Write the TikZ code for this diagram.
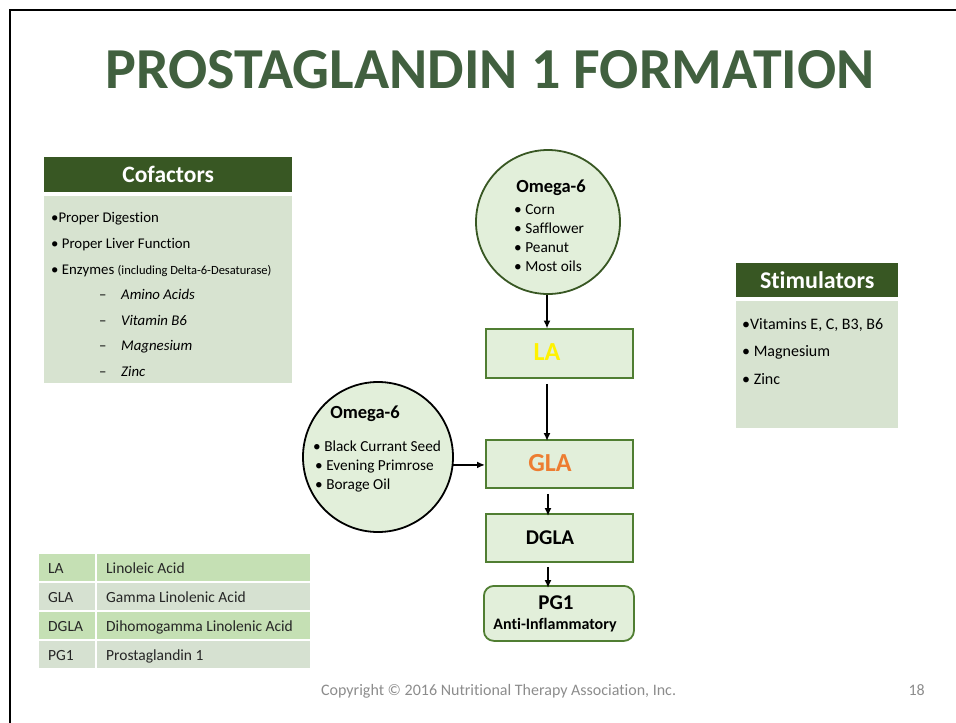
\documentclass[tikz,border=0pt]{standalone}
\usepackage{fontspec}
\setmainfont[Ligatures=NoCommon]{Carlito}
\usetikzlibrary{arrows.meta}
\definecolor{titlegreen}{HTML}{41603F}
\definecolor{headgreen}{HTML}{385723}
\definecolor{panel}{HTML}{D7E3D0}
\definecolor{bubble}{HTML}{E2EFDA}
\definecolor{boxline}{HTML}{507E32}
\definecolor{rowA}{HTML}{C5E0B4}
\definecolor{rowB}{HTML}{D6E1D1}
\definecolor{footgrey}{HTML}{8C8C8C}
\definecolor{glaorange}{HTML}{ED7D31}
\definecolor{celltext}{HTML}{262626}
\newcommand{\fs}[1]{\fontsize{#1}{#1}\selectfont}
\begin{document}
\begin{tikzpicture}[x=1pt,y=-1pt,
  panelhead/.style={rectangle, fill=headgreen, text=white, font=\fs{23.5}\bfseries,
    inner sep=0pt, anchor=north west},
  panelbody/.style={rectangle, fill=panel, inner sep=0pt, anchor=north west},
  item/.style={anchor=base west, inner sep=0pt, font=\fs{14.8}},
  bubitem/.style={anchor=base west, inner sep=0pt, font=\fs{15.3}},
  bubblenode/.style={circle, fill=bubble, line width=1.8pt, inner sep=0pt},
  stepbox/.style={rectangle, fill=bubble, draw=boxline, line width=1.8pt,
    inner sep=0pt, anchor=north west},
  boxlabel/.style={font=\fs{26}\bfseries, inner sep=0pt},
  flow/.style={-{Latex[length=8pt,width=7pt]}, line width=1.7pt, black},
  cell/.style={rectangle, inner sep=0pt, minimum height=26.5pt, anchor=north west},
  celltxt/.style={anchor=base west, inner sep=0pt, font=\fs{15.5}, text=celltext},
]
\useasboundingbox (0,0) rectangle (956,723);

% page frame
\draw[line width=2.6pt, line cap=rect] (10,723) -- (10,10) -- (956,10);

% title
\node[font=\fs{58}\bfseries, text=titlegreen, inner sep=0pt] (title) at (490,70)
  {PROSTAGLANDIN 1 FORMATION};

% cofactors panel
\node[panelhead, minimum width=248pt, minimum height=35pt] (cofhead) at (44,157) {Cofactors};
\node[panelbody, minimum width=248pt, minimum height=187pt] (cofbody) at (44,196) {};
\node[item] (cof1) at (51,222) {•Proper Digestion};
\node[item] (cof2) at (51,248) {• Proper Liver Function};
\node[item] (cof3) at (51,274) {• Enzymes {\fs{12.5}(including Delta-6-Desaturase)}};
\node[item] (cofd1) at (99,299) {–};
\node[item] (cofd2) at (99,325) {–};
\node[item] (cofd3) at (99,350) {–};
\node[item] (cofd4) at (99,376) {–};
\node[item, font=\fs{14.8}\itshape] (cof4) at (121,299) {Amino Acids};
\node[item, font=\fs{14.8}\itshape] (cof5) at (121,325) {Vitamin B6};
\node[item, font=\fs{14.8}\itshape] (cof6) at (121,350) {Magnesium};
\node[item, font=\fs{14.8}\itshape] (cof7) at (121,376) {Zinc};

% stimulators panel
\node[panelhead, font=\fs{24}\bfseries, minimum width=162pt, minimum height=34pt] (stimhead) at (736,263) {Stimulators};
\node[panelbody, minimum width=162pt, minimum height=127pt] (stimbody) at (736,301) {};
\node[item, font=\fs{16}] (stim1) at (742,329) {•Vitamins E, C, B3, B6};
\node[item, font=\fs{16}] (stim2) at (742,356) {• Magnesium};
\node[item, font=\fs{16}] (stim3) at (742,384) {• Zinc};

% omega-6 sources
\node[bubblenode, draw=headgreen, minimum size=144pt] (om1) at (548,222) {};
\node[font=\fs{18.5}\bfseries, inner sep=0pt] (om1t) at (551,188) {Omega-6};
\node[bubitem] (om1a) at (514,214) {• Corn};
\node[bubitem] (om1b) at (514,233) {• Safflower};
\node[bubitem] (om1c) at (514,252) {• Peanut};
\node[bubitem] (om1d) at (514,271) {• Most oils};

\node[bubblenode, draw=black, minimum size=150pt] (om2) at (378,457) {};
\node[font=\fs{18.5}\bfseries, inner sep=0pt] (om2t) at (365,414) {Omega-6};
\node[bubitem] (om2a) at (313,451) {• Black Currant Seed};
\node[bubitem] (om2b) at (315,470) {• Evening Primrose};
\node[bubitem] (om2c) at (315,489) {• Borage Oil};

% pathway boxes
\node[stepbox, minimum width=147pt, minimum height=49pt] (la) at (485,328) {};
\node[boxlabel, text=yellow] (latext) at (547,352) {LA};
\node[stepbox, minimum width=147pt, minimum height=48pt] (gla) at (485,439) {};
\node[boxlabel, text=glaorange] (glatext) at (550,463) {GLA};
\node[stepbox, minimum width=147pt, minimum height=48pt] (dgla) at (485,513) {};
\node[boxlabel, font=\fs{21}\bfseries] (dglatext) at (550,538) {DGLA};
\node[stepbox, rounded corners=10pt, minimum width=150pt, minimum height=55pt] (pg) at (483,585) {};
\node[boxlabel, font=\fs{21}\bfseries] (pgtext) at (556,603) {PG1};
\node[boxlabel, font=\fs{16}\bfseries] (pgsub) at (555,625) {Anti-Inflammatory};

% arrows
\draw[flow] (om1.south -| latext) -- ([yshift=-0.5pt]la.north -| latext);
\draw[flow] (la.south -| latext) ++(0,5) -- ([yshift=-2pt]gla.north -| latext);
\draw[flow] (gla.south -| 548,0) ++(0,5) -- ([yshift=-3pt]dgla.north -| 548,0);
\draw[flow] (dgla.south -| 548,0) ++(0,4) -- ([yshift=-3pt]pg.north -| 548,0);
\draw[flow] (om2.-6) -- (om2.-6 -| gla.west);

% abbreviation table: cell backgrounds
\node[cell, fill=rowA, minimum width=56pt] (t1a) at (39,554) {};
\node[cell, fill=rowA, minimum width=213pt] (t1b) at (97,554) {};
\node[cell, fill=rowB, minimum width=56pt] (t2a) at (39,583) {};
\node[cell, fill=rowB, minimum width=213pt] (t2b) at (97,583) {};
\node[cell, fill=rowA, minimum width=56pt] (t3a) at (39,612) {};
\node[cell, fill=rowA, minimum width=213pt] (t3b) at (97,612) {};
\node[cell, fill=rowB, minimum width=56pt] (t4a) at (39,641) {};
\node[cell, fill=rowB, minimum width=213pt] (t4b) at (97,641) {};
% abbreviation table: cell texts
\node[celltxt] (t1at) at (48,573) {LA};
\node[celltxt] (t1bt) at (106,573) {Linoleic Acid};
\node[celltxt] (t2at) at (48,602) {GLA};
\node[celltxt] (t2bt) at (106,602) {Gamma Linolenic Acid};
\node[celltxt] (t3at) at (48,631) {DGLA};
\node[celltxt] (t3bt) at (106,631) {Dihomogamma Linolenic Acid};
\node[celltxt] (t4at) at (48,660) {PG1};
\node[celltxt] (t4bt) at (106,660) {Prostaglandin 1};

% footer
\node[anchor=base west, inner sep=0pt, font=\fs{16}, text=footgrey] (copy) at (321,695)
  {Copyright © 2016 Nutritional Therapy Association, Inc.};
\node[anchor=base east, inner sep=0pt, font=\fs{16}, text=footgrey] (pagenum) at (925,695) {18};
\end{tikzpicture}
\end{document}
